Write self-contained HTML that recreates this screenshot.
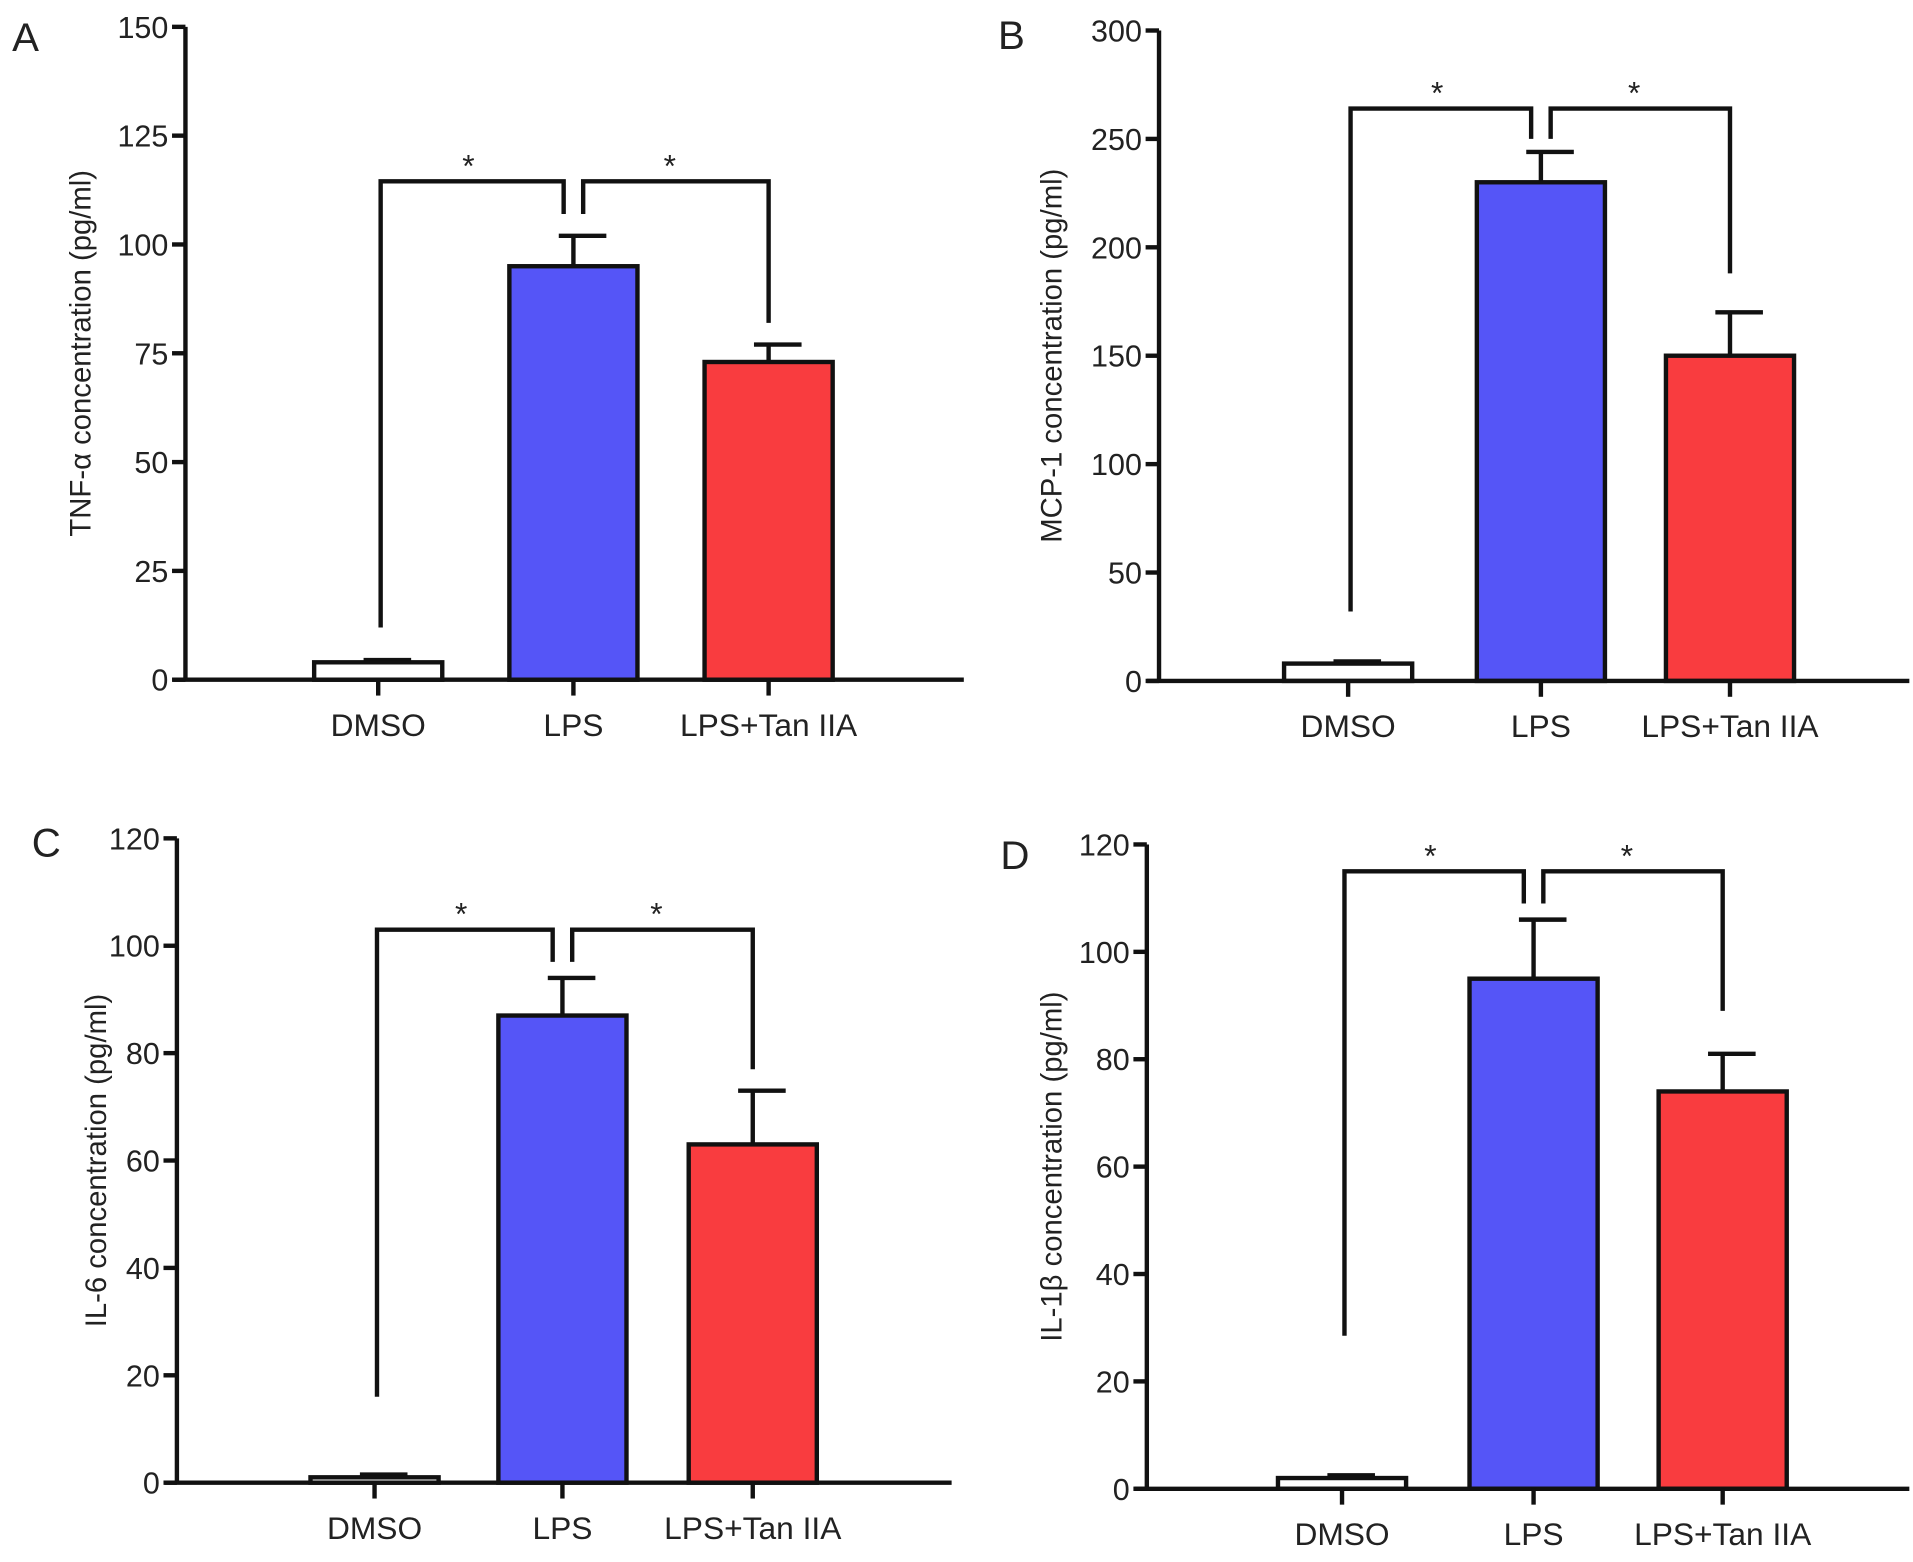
<!DOCTYPE html>
<html><head><meta charset="utf-8"><style>
html,body{margin:0;padding:0;background:#fff}
svg{display:block}
text{font-family:"Liberation Sans",sans-serif;fill:#222}
</style></head><body>
<svg id="fig" width="1913" height="1562" viewBox="0 0 1568 1280" preserveAspectRatio="none" xmlns="http://www.w3.org/2000/svg"></svg>
<script>
const categories = ["DMSO","LPS","LPS+Tan IIA"];
const tnfValues = [4, 95, 73];
const tnfErrors = [4.5, 102, 77];
const mcpValues = [8, 230, 150];
const mcpErrors = [9, 244, 170];
const il6Values = [1, 87, 63];
const il6Errors = [1.5, 94, 73];
const il1bValues = [2, 95, 74];
const il1bErrors = [2.5, 106, 81];
const tnfTicks = [0,25,50,75,100,125,150];
const mcpTicks = [0,50,100,150,200,250,300];
const il6Ticks = [0,20,40,60,80,100,120];
const il1bTicks = [0,20,40,60,80,100,120];
// bracket data: [top, leftDrop, midDrop, rightDrop]
const tnfBracket = [114.5, 12, 107, 82];
const mcpBracket = [264, 32, 250, 188];
const il6Bracket = [103, 16, 97, 77];
const il1bBracket = [115, 28.5, 109, 89];

const colors = ["#ffffff","#5555f7","#f93c3f"];
const svg = document.getElementById('fig');
const NS = "http://www.w3.org/2000/svg";
const SW = 3.6;
function mk(tag, attrs, parent){const e=document.createElementNS(NS,tag);for(const k in attrs)e.setAttribute(k,attrs[k]);(parent||svg).appendChild(e);return e;}

const panels = [
 {letter:"A",lx:10,ly:42,ax:152,top:22,zero:557,xEnd:790,ticksX:[310,470,630],barW:105,max:150,vals:tnfValues,errs:tnfErrors,ticks:tnfTicks,br:tnfBracket,title:"TNF-α concentration (pg/ml)",tx:74,name:"tnf"},
 {letter:"B",lx:818,ly:40,ax:950,top:25,zero:558,xEnd:1565,ticksX:[1105,1263,1418],barW:105,max:300,vals:mcpValues,errs:mcpErrors,ticks:mcpTicks,br:mcpBracket,title:"MCP-1 concentration (pg/ml)",tx:870,name:"mcp1"},
 {letter:"C",lx:26,ly:702,ax:145,top:687,zero:1215,xEnd:780,ticksX:[307,461,617],barW:105,max:120,vals:il6Values,errs:il6Errors,ticks:il6Ticks,br:il6Bracket,title:"IL-6 concentration (pg/ml)",tx:87,name:"il6"},
 {letter:"D",lx:820,ly:712,ax:940,top:692,zero:1220,xEnd:1565,ticksX:[1100,1257,1412],barW:105,max:120,vals:il1bValues,errs:il1bErrors,ticks:il1bTicks,br:il1bBracket,title:"IL-1β concentration (pg/ml)",tx:870,name:"il1b"}
];

panels.forEach(p=>{
  const g = mk('g',{});
  
  
  const y = v => p.zero - (v/p.max)*(p.zero-p.top);
  const L = mk('text',{x:p.lx,y:p.ly,'font-size':33},g); L.textContent=p.letter;
   
  p.vals.forEach((v,i)=>{
    const cx=p.ticksX[i];
    const e=p.errs[i];
    const el=mk('line',{x1:cx,x2:cx,y1:y(v),y2:y(e),stroke:'#111','stroke-width':SW},g);
     
    const cap=mk('line',{x1:cx-12,x2:cx+27,y1:y(e),y2:y(e),stroke:'#111','stroke-width':SW},g);
     
    const r=mk('rect',{x:cx-p.barW/2,y:y(v),width:p.barW,height:p.zero-y(v),fill:colors[i],stroke:'#111','stroke-width':SW},g);
    
    
  });
  const ya=mk('line',{x1:p.ax,x2:p.ax,y1:p.top,y2:p.zero,stroke:'#111','stroke-width':SW},g);
   
  const xa=mk('line',{x1:p.ax-10,x2:p.xEnd,y1:p.zero,y2:p.zero,stroke:'#111','stroke-width':SW},g);
   
  p.ticks.forEach(t=>{
    mk('line',{x1:p.ax-11,x2:p.ax,y1:y(t),y2:y(t),stroke:'#111','stroke-width':SW},g);
    const tl=mk('text',{x:p.ax-14,y:y(t)+9,'font-size':25,'text-anchor':'end'},g); tl.textContent=t;
     
  });
  categories.forEach((c,i)=>{
    mk('line',{x1:p.ticksX[i],x2:p.ticksX[i],y1:p.zero,y2:p.zero+13,stroke:'#111','stroke-width':SW},g);
    const xl=mk('text',{x:p.ticksX[i],y:p.zero+46,'font-size':26,'text-anchor':'middle'},g); xl.textContent=c;
     
  });
  const mid=(p.top+p.zero)/2;
  const tt=mk('text',{x:p.tx,y:mid,'font-size':24,'text-anchor':'middle',transform:`rotate(-90 ${p.tx} ${mid})`},g); tt.textContent=p.title;
   
  const [bt,bl,bm,br]=p.br;
  const x0=p.ticksX[0]+2, x1=p.ticksX[1]-8, x2=p.ticksX[1]+8, x3=p.ticksX[2];
  const b1=mk('path',{d:`M${x0} ${y(bl)} V${y(bt)} H${x1} V${y(bm)}`,fill:'none',stroke:'#111','stroke-width':SW},g);
   
  const b2=mk('path',{d:`M${x2} ${y(bm)} V${y(bt)} H${x3} V${y(br)}`,fill:'none',stroke:'#111','stroke-width':SW},g);
   
  [(x0+x1)/2+(-3),(x2+x3)/2-5].forEach(sx=>{
    const s=mk('text',{x:sx,y:y(bt)-4,'font-size':26,'text-anchor':'middle'},g); s.textContent='*';
     
  });
});
</script>
</body></html>
